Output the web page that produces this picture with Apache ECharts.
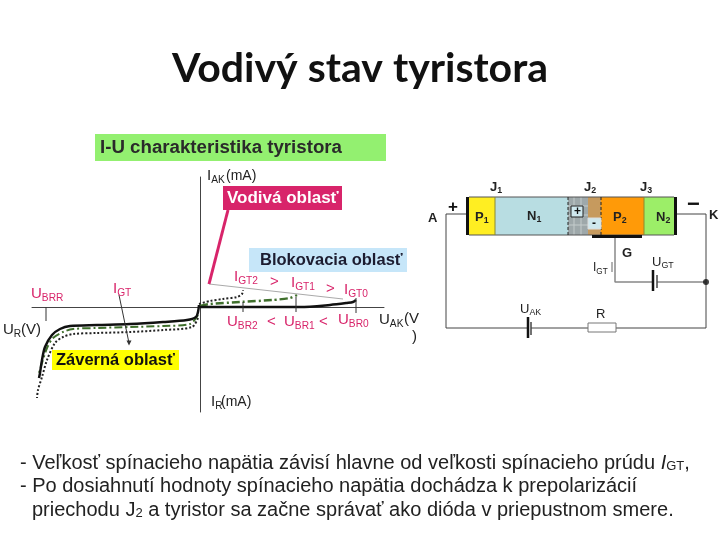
<!DOCTYPE html>
<html>
<head>
<meta charset="utf-8">
<style>
  html, body { margin: 0; padding: 0; background: #fff; }
  #chart { width: 720px; height: 540px; }
</style>
<script src="https://cdn.jsdelivr.net/npm/echarts@6/dist/echarts.min.js"></script>
</head>
<body>
<div id="chart"></div>
<script>
// I-U curves, [U, I]
const reverseSolid = [[-1, 2], [-2, -5], [-4, -10], [-13, -13], [-37, -15], [-70, -17], [-103, -18], [-130, -19], [-140, -22], [-148, -28], [-155, -40], [-158, -53], [-160, -66], [-161, -71]];
const reverseDash = [[-2, -8], [-10, -17], [-37, -19], [-70, -20], [-103, -21], [-127, -22], [-137, -25], [-147, -31], [-153, -41], [-158, -56], [-161, -66]];
const reverseDot = [[-2, -11], [-8, -20], [-37, -23], [-70, -25], [-103, -26], [-127, -27], [-137, -30], [-145, -36], [-153, -53], [-158, -70], [-162, -83], [-163, -91]];
const forwardSolid = [[0, 0], [60, 0], [100, 0], [130, 2], [147, 4], [153, 5], [156, 7]];
const forwardDash = [[0, 1], [10, 3], [40, 5], [73, 7], [90, 9], [97, 12]];
const forwardDot = [[-1, 3], [10, 6], [23, 8], [37, 10], [42, 13], [43, 17]];
const envelope = [[9, 23], [143, 8]];
const pointer = [[28, 97], [9, 23]];
const arrowGT = [[-81, 12], [-71, -36]];
const tickBRR = [[-154, 0], [-154, -14]];
const tickBR2 = [[43, 5], [43, -5]];
const tickBR1 = [[96, 10], [96, -5]];
const tickBR0 = [[156, 9], [156, -6]];

// Tyristor schematic, [x, y] on its own board
const layerNames = ["P1", "N1", "depl+", "depl-", "P2", "N2"];
const layerEdges = [49, 75, 148, 168, 181, 224, 254];
const barTop = 27;
const barBottom = 65;
const contacts = [[46, 49], [254, 257]];
const gateContact = [172, 222];
const gateContactY = [65, 68];
const junctionLines = [148, 181];
const wireAnode = [[46, 44], [26, 44], [26, 158], [108, 158]];
const wireCathode = [[257, 44], [286, 44], [286, 158], [196, 158]];
const wireCathode2 = [[168, 158], [111, 158]];
const wireGate = [[195, 68], [195, 112], [233, 112]];
const wireGate2 = [[237, 112], [286, 112]];
const batteryGT = [[233, 100], [233, 121]];
const batteryGTs = [[237, 105], [237, 118]];
const batteryAK = [[108, 147], [108, 168]];
const batteryAKs = [[111, 152], [111, 165]];
const arrowIGT = [[192, 102], [192, 92]];
const node = [[286, 112]];
const resistor = [[168, 153, 196, 162]];
const plusBox = [[151, 36, 163, 47]];
const minusBox = [[168, 48, 181, 59]];
const meshX = [154, 161];
const meshY = [36, 45, 55];

// Texts
const titleText = "Vodivý stav tyristora";
const boxTitle = "I-U charakteristika tyristora";
const boxConduct = "Vodivá oblasť";
const boxBlock = "Blokovacia oblasť";
const boxReverse = "Záverná oblasť";
const bodyLine1 = "- Veľkosť spínacieho napätia závisí hlavne od veľkosti spínacieho prúdu ";
const bodyLine2 = "- Po dosiahnutí hodnoty spínacieho napätia dochádza k prepolarizácií";
const bodyLine3a = "priechodu J";
const bodyLine3b = " a tyristor sa začne správať ako dióda v priepustnom smere.";

const pink = "#d8246a";
const ink = "#222";

const chartInstance = echarts.init(document.getElementById("chart"));

function path(data, color, width, type, gridIndex, smooth) {
  return {
    type: "line",
    xAxisIndex: gridIndex,
    yAxisIndex: gridIndex,
    data: data,
    showSymbol: false,
    smooth: smooth || false,
    silent: true,
    lineStyle: { color: color, width: width, type: type || "solid" },
    z: 3,
  };
}

function boxes(data, fill, stroke, z) {
  return {
    type: "custom",
    xAxisIndex: 1,
    yAxisIndex: 1,
    silent: true,
    data: data,
    z: z || 2,
    encode: { x: [0, 2], y: [1, 3] },
    renderItem: (params, api) => {
      const a = api.coord([api.value(0), api.value(1)]);
      const b = api.coord([api.value(2), api.value(3)]);
      return {
        type: "rect",
        shape: { x: a[0], y: a[1], width: b[0] - a[0], height: b[1] - a[1] },
        style: { fill: fill, stroke: stroke || null, lineWidth: 1 },
      };
    },
  };
}

function layerBox(i, fill) {
  return boxes([[layerEdges[i], barTop, layerEdges[i + 1], barBottom]], fill, null, 2);
}

// main letter + subscript
function lab(x, y, main, sub, color, size, weight) {
  const s = size || 15;
  const w = weight || "normal";
  return {
    type: "text",
    z: 20,
    style: {
      x: x,
      y: y,
      text: sub ? `{m|${main}}{s|${sub}}` : `{m|${main}}`,
      verticalAlign: "middle",
      rich: {
        m: { fontFamily: "Liberation Sans", fontWeight: w, fontSize: s, fill: color, lineHeight: s + 4 },
        s: { fontFamily: "Liberation Sans", fontWeight: w, fontSize: s * 0.68, fill: color, verticalAlign: "bottom", lineHeight: s * 0.7 },
      },
    },
  };
}

function tag(x0, y0, x1, y1, fill, text, color, tx, size) {
  return [
    { type: "rect", z: 18, shape: { x: x0, y: y0, width: x1 - x0, height: y1 - y0 }, style: { fill: fill } },
    {
      type: "text",
      z: 19,
      style: {
        x: tx,
        y: (y0 + y1) / 2,
        text: text,
        fill: color,
        verticalAlign: "middle",
        font: `bold ${size}px "Liberation Sans"`,
      },
    },
  ];
}

function plainText(x, y, text, font, color) {
  return { type: "text", z: 20, style: { x: x, y: y, text: text, fill: color || ink, font: font, verticalAlign: "middle" } };
}

const meshLines = [];
meshX.forEach((x) => meshLines.push(path([[x, barTop], [x, barBottom]], "#c4cccc", 1, "solid", 1)));
meshY.forEach((y) => meshLines.push(path([[148, y], [168, y]], "#c4cccc", 1, "solid", 1)));

const bodyRich = {
  t: { fontFamily: "Liberation Sans", fontSize: 20, fill: "#222" },
  i: { fontFamily: "Liberation Sans", fontSize: 20, fontStyle: "italic", fill: "#222" },
  s: { fontFamily: "Liberation Sans", fontSize: 13, fill: "#222", verticalAlign: "bottom", lineHeight: 16 },
};

const initOption = {
  backgroundColor: "#fff",
  animation: false,
  title: {
    text: titleText,
    left: 355,
    top: 43,
    textAlign: "center",
    textStyle: { fontFamily: "Lato", fontWeight: "bold", fontSize: 41, color: "#111" },
  },
  grid: [
    { left: 32, top: 177, width: 352, height: 235 },
    { left: 420, top: 170, width: 300, height: 190 },
  ],
  xAxis: [
    {
      gridIndex: 0,
      type: "value",
      min: -168,
      max: 184,
      axisLine: { onZero: true, lineStyle: { color: "#444", width: 1 } },
      axisTick: { show: false },
      axisLabel: { show: false },
      splitLine: { show: false },
    },
    { gridIndex: 1, type: "value", min: 0, max: 300, show: false },
  ],
  yAxis: [
    {
      gridIndex: 0,
      type: "value",
      min: -105,
      max: 130,
      axisLine: { onZero: true, lineStyle: { color: "#444", width: 1 } },
      axisTick: { show: false },
      axisLabel: { show: false },
      splitLine: { show: false },
    },
    { gridIndex: 1, type: "value", min: 0, max: 190, inverse: true, show: false },
  ],
  series: [
    path(reverseDot, "#222", 2, "dotted", 0, 0.3),
    path(reverseDash, "#3f6f2c", 2, [8, 3, 2, 3], 0, 0.3),
    path(reverseSolid, "#111", 2.5, "solid", 0, 0.3),
    path(forwardDot, "#222", 2, "dotted", 0, 0.3),
    path(forwardDash, "#3f6f2c", 2.5, [8, 3, 2, 3], 0, 0.2),
    path(forwardSolid, "#111", 2.5, "solid", 0, 0.3),
    path(envelope, "#aaa", 1, "solid", 0),
    path(pointer, pink, 3, "solid", 0),
    path(tickBRR, "#333", 1, "solid", 0),
    path(tickBR2, "#333", 1, "solid", 0),
    path(tickBR1, "#333", 1, "solid", 0),
    path(tickBR0, "#333", 1, "solid", 0),
    {
      type: "line",
      xAxisIndex: 0,
      yAxisIndex: 0,
      silent: true,
      showAllSymbol: true,
      lineStyle: { color: "#333", width: 1 },
      itemStyle: { color: "#333" },
      data: [
        { value: arrowGT[0], symbol: "none" },
        { value: arrowGT[1], symbol: "triangle", symbolSize: 5, symbolRotate: 180 },
      ],
      z: 3,
    },
    // schematic
    layerBox(0, "#ffee22"),
    layerBox(1, "#b8dde2"),
    layerBox(2, "#9ea8aa"),
    layerBox(3, "#c69a5e"),
    layerBox(4, "#ff9a08"),
    layerBox(5, "#9cee68"),
    ...meshLines,
    path([[layerEdges[0], barTop], [layerEdges[6], barTop]], "#555", 1, "solid", 1),
    path([[layerEdges[0], barBottom], [layerEdges[6], barBottom]], "#555", 1, "solid", 1),
    path([[layerEdges[1], barTop], [layerEdges[1], barBottom]], "#8a8a30", 1, "solid", 1),
    path([[layerEdges[5], barTop], [layerEdges[5], barBottom]], "#8a8a30", 1, "solid", 1),
    path([[junctionLines[0], barTop], [junctionLines[0], barBottom]], "#222", 1, [3, 2], 1),
    path([[junctionLines[1], barTop], [junctionLines[1], barBottom]], "#222", 1, [3, 2], 1),
    boxes([[contacts[0][0], barTop, contacts[0][1], barBottom], [contacts[1][0], barTop, contacts[1][1], barBottom]], "#111", null, 4),
    boxes([[gateContact[0], gateContactY[0], gateContact[1], gateContactY[1]]], "#111", null, 4),
    boxes(plusBox, "#cfe8ee", "#222", 5),
    boxes(minusBox, "#cfe8ee", "#ddd", 5),
    path(wireAnode, "#444", 1, "solid", 1),
    path(wireCathode, "#444", 1, "solid", 1),
    path(wireCathode2, "#444", 1, "solid", 1),
    path(wireGate, "#888", 1.5, "solid", 1),
    path(wireGate2, "#888", 1.5, "solid", 1),
    path(batteryGT, "#111", 2.5, "solid", 1),
    path(batteryGTs, "#444", 1.5, "solid", 1),
    path(batteryAK, "#111", 2.5, "solid", 1),
    path(batteryAKs, "#444", 1.5, "solid", 1),
    path(arrowIGT, "#999", 1.5, "solid", 1),
    boxes(resistor, "#fff", "#777", 5),
    {
      type: "scatter",
      xAxisIndex: 1,
      yAxisIndex: 1,
      silent: true,
      data: node,
      symbolSize: 6,
      itemStyle: { color: "#111" },
      z: 6,
    },
  ],
  graphic: {
    elements: [
      ...tag(95, 134, 386, 161, "#93f070", boxTitle, "#2a2a2a", 100, 18.7),
      ...tag(223, 186, 342, 210, pink, boxConduct, "#fff", 227, 17),
      ...tag(249, 248, 407, 272, "#c6e6f9", boxBlock, "#1c1c30", 260, 16.5),
      ...tag(52, 350, 179, 370, "#ffff00", boxReverse, "#111", 56, 16.5),
      lab(31, 294, "U", "BRR", pink),
      lab(113, 289, "I", "GT", pink),
      lab(3, 330, "U", "R", ink),
      plainText(21, 330, "(V)", '15px "Liberation Sans"'),
      lab(207, 176, "I", "AK", ink),
      plainText(226, 176, "(mA)", '14px "Liberation Sans"'),
      lab(211, 402, "I", "R", ink),
      plainText(221, 402, "(mA)", '14px "Liberation Sans"'),
      lab(234, 277, "I", "GT2", pink),
      plainText(270, 282, ">", '15px "Liberation Sans"', pink),
      lab(291, 283, "I", "GT1", pink),
      plainText(326, 289, ">", '15px "Liberation Sans"', pink),
      lab(344, 290, "I", "GT0", pink),
      lab(227, 322, "U", "BR2", pink),
      plainText(267, 322, "<", '15px "Liberation Sans"', pink),
      lab(284, 322, "U", "BR1", pink),
      plainText(319, 322, "<", '15px "Liberation Sans"', pink),
      lab(338, 320, "U", "BR0", pink),
      lab(379, 320, "U", "AK", ink),
      plainText(404, 319, "(V", '15px "Liberation Sans"'),
      plainText(412, 337, ")", '15px "Liberation Sans"'),
      // schematic labels
      lab(490, 187, "J", "1", "#222", 13, "bold"),
      lab(584, 187, "J", "2", "#222", 13, "bold"),
      lab(640, 187, "J", "3", "#222", 13, "bold"),
      plainText(448, 207, "+", 'bold 17px "Liberation Sans"', "#111"),
      plainText(687, 205, "−", 'bold 22px "Liberation Sans"', "#111"),
      plainText(428, 218, "A", 'bold 13px "Liberation Sans"'),
      plainText(709, 215, "K", 'bold 13px "Liberation Sans"'),
      lab(475, 217, "P", "1", "#222", 13, "bold"),
      lab(527, 216, "N", "1", "#222", 13, "bold"),
      lab(613, 217, "P", "2", "#222", 13, "bold"),
      lab(656, 217, "N", "2", "#222", 13, "bold"),
      plainText(574, 212, "+", 'bold 12px "Liberation Sans"', "#111"),
      plainText(592, 224, "-", 'bold 12px "Liberation Sans"', "#111"),
      plainText(622, 253, "G", 'bold 13px "Liberation Sans"'),
      lab(593, 268, "I", "GT", "#222", 12),
      lab(652, 262, "U", "GT", "#222", 13),
      lab(520, 309, "U", "AK", "#222", 13),
      plainText(596, 314, "R", '13px "Liberation Sans"'),
      // description
      {
        type: "text",
        z: 20,
        style: {
          x: 20,
          y: 463,
          verticalAlign: "middle",
          text: `{t|${bodyLine1}}{i|I}{s|GT}{t|,}`,
          rich: bodyRich,
        },
      },
      {
        type: "text",
        z: 20,
        style: { x: 20, y: 486, verticalAlign: "middle", text: `{t|${bodyLine2}}`, rich: bodyRich },
      },
      {
        type: "text",
        z: 20,
        style: {
          x: 32,
          y: 510,
          verticalAlign: "middle",
          text: `{t|${bodyLine3a}}{s|2}{t|${bodyLine3b}}`,
          rich: bodyRich,
        },
      },
    ],
  },
};
chartInstance.setOption(initOption);
</script>
</body>
</html>
